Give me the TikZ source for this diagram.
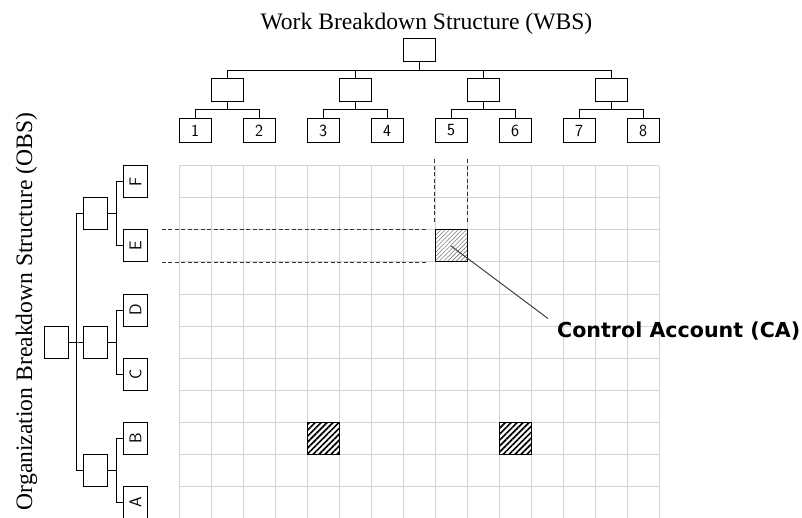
\documentclass[tikz,border=0pt]{standalone}
\usepackage{fontspec}
\usepackage{graphicx}
\setmainfont{Liberation Serif}
\newfontfamily\calloutfont{DejaVu Sans}
\usetikzlibrary{patterns.meta,calc}
\definecolor{gridgray}{HTML}{D4D4D4}
\definecolor{hatchgray}{HTML}{7A7A7A}
\definecolor{leadergray}{HTML}{404040}
\begin{document}
\begin{tikzpicture}[x=1pt, y=-1pt,
  link/.style={line width=1pt, black},
  wbox/.style={draw, line width=1pt, fill=white, inner sep=0pt,
    minimum width=32pt, minimum height=24pt,
    font=\sffamily\fontsize{17}{20}\selectfont},
  obox/.style={draw, line width=1pt, fill=white, inner sep=0pt,
    minimum width=24pt, minimum height=32pt,
    font=\sffamily\fontsize{17}{20}\selectfont},
  gridline/.style={gridgray, line width=1pt},
  guide/.style={line width=0.9pt, black!80, dash pattern=on 4pt off 2.5pt},
  cacell/.style={draw, line width=1pt, inner sep=0pt, minimum size=32pt,
    pattern={Lines[angle=45, distance=3pt, line width=0.6pt]},
    pattern color=hatchgray},
  cell/.style={draw, line width=1pt, inner sep=0pt, minimum size=32pt,
    pattern={Lines[angle=45, distance=4.2pt, line width=1.7pt]},
    pattern color=black},
  heading/.style={font=\fontsize{23.6}{28}\selectfont, inner sep=0pt}
]
\useasboundingbox (0,0) rectangle (802,518);

% responsibility matrix grid
\foreach \i in {0,...,15}
  \draw[gridline] ({179+32*\i},166) -- ({179+32*\i},518);
\foreach \j in {0,...,10}
  \draw[gridline] (179,{166+32*\j}) -- (659,{166+32*\j});

% work breakdown structure (top)
\node[heading, anchor=base] (wbstitle) at (426.4,29.3) {Work Breakdown Structure (WBS)};
\node[wbox, minimum height=23pt] (wbs) at (419,50.5) {};
\foreach \c/\n in {1/w1,5/w2,9/w3,13/w4}
  \node[wbox, minimum height=23pt] (\n) at ({195+32*\c},90.5) {};
\foreach \c/\lab in {0/1,2/2,4/3,6/4,8/5,10/6,12/7,14/8}
  \node[wbox] (wl\lab) at ({195+32*\c},130.5) {\lab};
\coordinate (wbusA) at (0,70.5);
\coordinate (wbusB) at (0,110);
\foreach \n in {w1,w2,w3,w4}
  \draw[link] (wbs.south) -- (wbs.south |- wbusA) -| (\n.north);
\foreach \p/\a/\b in {w1/1/2,w2/3/4,w3/5/6,w4/7/8} {
  \draw[link] (\p.south) -- (\p.south |- wbusB) -| (wl\a.north);
  \draw[link] (\p.south |- wbusB) -| (wl\b.north);
}

% organization breakdown structure (left)
\node[heading, anchor=base, rotate=90] (obstitle) at (32,311.5) {Organization Breakdown Structure (OBS)};
\node[obox] (obs) at (56,342) {};
\node[obox] (o1) at (95.5,214) {};
\node[obox] (o2) at (95.5,342) {};
\node[obox] (o3) at (95.5,470) {};
\foreach \lab/\y in {F/182,E/246,D/310,C/374,B/438,A/502}
  \node[obox] (ol\lab) at (135.5,\y) {\rotatebox{90}{\lab}};
\coordinate (obusA) at (76,0);
\coordinate (obusB) at (116,0);
\foreach \n in {o1,o2,o3}
  \draw[link] (obs.east) -- (obs.east -| obusA) |- (\n.west);
\foreach \p/\a/\b in {o1/F/E,o2/D/C,o3/B/A} {
  \draw[link] (\p.east) -- (\p.east -| obusB) |- (ol\a.west);
  \draw[link] (\p.east -| obusB) |- (ol\b.west);
}

% control accounts
\node[cacell] (ca) at (451,246) {};
\node[cell] (cab1) at (323,438) {};
\node[cell] (cab2) at (515,438) {};

% guide lines from WBS element 5 and OBS element E
\draw[guide] ($(ca.north west)+(0,-8)$) -- ++(0,-65);
\draw[guide] ($(ca.north east)+(0,-8)$) -- ++(0,-65);
\draw[guide] ($(ca.north west)+(-9,0)$) -- ++(-264,0);
\draw[guide] ($(ca.south west)+(-9,0)$) -- ++(-264,0);

% callout
\node[anchor=base west, inner sep=0pt,
  font=\calloutfont\bfseries\fontsize{20.6}{24}\selectfont] (calabel) at (557,337) {Control Account (CA)};
\coordinate (caend) at (548,318.5);
\draw[leadergray, line width=1pt] (ca.center) -- (caend);
\end{tikzpicture}
\end{document}
